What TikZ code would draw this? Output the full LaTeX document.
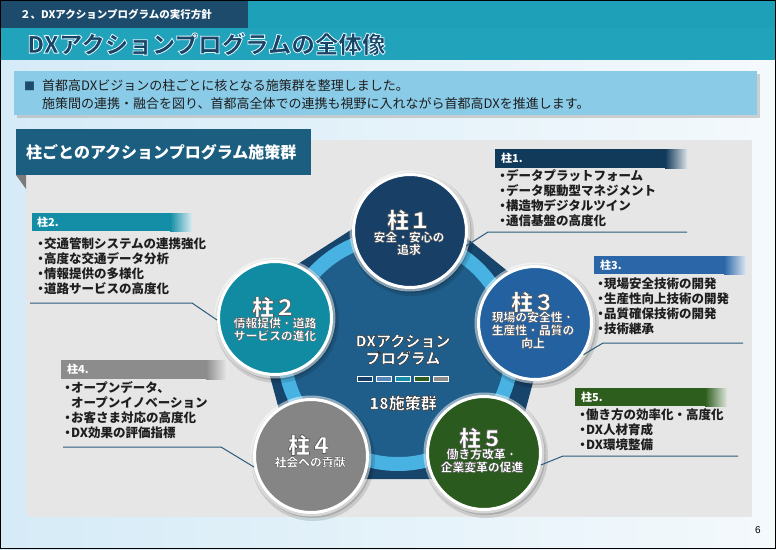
\documentclass[tikz,border=0pt]{standalone}
\usepackage{fontspec}
\setmainfont{Noto Sans CJK JP}
\newfontfamily\lsans{Liberation Sans}
\usetikzlibrary{calc}
\definecolor{navyhead}{HTML}{1C4B6C}
\definecolor{tealhead}{HTML}{1FA0B9}
\definecolor{tealband}{HTML}{22A3BC}
\definecolor{titletxt}{HTML}{1A4466}
\definecolor{bgA}{HTML}{D5EBF7}
\definecolor{bgB}{HTML}{F4F9FC}
\definecolor{notebox}{HTML}{8ACBE8}
\definecolor{panel}{HTML}{E6E6E6}
\definecolor{tabc}{HTML}{1B5E80}
\definecolor{pA}{HTML}{183F66}
\definecolor{pB}{HTML}{108BA1}
\definecolor{pC}{HTML}{2461A1}
\definecolor{pD}{HTML}{858585}
\definecolor{pE}{HTML}{2B5A1F}
\definecolor{hA}{HTML}{10395A}
\definecolor{hB}{HTML}{138EA6}
\definecolor{hC}{HTML}{2A66A8}
\definecolor{hD}{HTML}{8C8C8C}
\definecolor{hE}{HTML}{2E5E1E}
\definecolor{pentout}{HTML}{17446A}
\definecolor{pentin}{HTML}{1F5E8A}
\definecolor{ringc}{HTML}{48B2E2}
\definecolor{leader}{HTML}{2A5B7D}
\definecolor{bodyc}{HTML}{1E1E1E}
\newcommand\bul{\makebox[0.55em][c]{・}}
% outlined text: stroke rgb, stroke width, text
\newcommand\outl[3]{\special{pdf:literal direct 2 Tr #2 w #1 RG}#3\special{pdf:literal direct 0 Tr}}
% name, position, style, fill colour, stroke rgb, stroke width, text
\newcommand\gtext[7]{\node[#3,text=#4] (#1) at (#2) {\outl{#5}{#6}{#7}};}
\tikzset{
  hdrtxt/.style={font=\fontsize{10.5}{12}\selectfont\bfseries,text=white,anchor=west,inner sep=0},
  maintitle/.style={font=\fontsize{23.5}{26}\selectfont\bfseries,anchor=west,inner sep=0},
  notetxt/.style={font=\fontsize{13}{15}\selectfont,text=bodyc,anchor=west,inner sep=0},
  tabtxt/.style={font=\fontsize{16}{18}\selectfont\bfseries,text=white,anchor=west,inner sep=0},
  phtxt/.style={font=\fontsize{11}{12}\selectfont\bfseries,text=white,anchor=west,inner sep=0},
  listtxt/.style={font=\fontsize{12.5}{15}\selectfont\bfseries,text=bodyc,anchor=north west,inner sep=0,align=left},
  leadln/.style={draw=leader,line width=1pt},
  pillar/.style={circle,minimum size=113pt,inner sep=0,draw=white,line width=3pt},
  cbig/.style={font=\fontsize{22}{24}\selectfont\bfseries,inner sep=0},
  csub/.style={font=\fontsize{11.8}{13}\selectfont\bfseries,inner sep=0},
  ctr/.style={font=\fontsize{15}{17}\selectfont\bfseries,inner sep=0},
  ctrbig/.style={font=\fontsize{16}{18}\selectfont\bfseries,inner sep=0},
  minibar/.style={draw=white!75,line width=0.5pt},
}
\begin{document}
\begin{tikzpicture}[x=1pt,y=-1pt]
\useasboundingbox (0,0) rectangle (776,549);
% background
\shade[left color=bgA,right color=bgB] (0,60) rectangle (776,549);
% header
\fill[tealhead] (248,0) rectangle (776,28);
\fill[navyhead] (0,0) rectangle (248,28);
\fill[tealband] (0,28) rectangle (776,60);
\node[hdrtxt] (sect) at (20,14) {２、DXアクションプログラムの実行方針};
\gtext{title}{27,44}{maintitle}{titletxt}{0.88 0.97 1}{0.8}{DXアクションプログラムの全体像}
% note box
\fill[black!35,opacity=.5] (17,74) rectangle (760,118);
\fill[notebox] (14,71) rectangle (757,115);
\node[notetxt,text=navyhead,font=\fontsize{11}{12}\selectfont] (sq) at (24,86) {■};
\node[notetxt] (note1) at (42,86) {首都高DXビジョンの柱ごとに核となる施策群を整理しました。};
\node[notetxt] (note2) at (42,104) {施策間の連携・融合を図り、首都高全体での連携も視野に入れながら首都高DXを推進します。};
% panel
\fill[panel] (26,140) rectangle (752,517);
% tab
\fill[tabc] (16,129) rectangle (311,175);
\fill[black!52] (16,175) -- (26,175) -- (26,189) -- cycle;
\node[tabtxt] (tab) at (26,152) {柱ごとのアクションプログラム施策群};
% pillar header bars
\fill[hA] (495,149) rectangle (665,168);
\shade[left color=hA,right color=hA!15!white] (665,149) rectangle (687,168);
\node[phtxt] (h1) at (501,158.5) {柱1.};
\fill[hB] (32,213) rectangle (170,231);
\shade[left color=hB,right color=hB!15!white] (170,213) rectangle (192,231);
\node[phtxt] (h2) at (37,222) {柱2.};
\fill[hC] (594,256) rectangle (724,274);
\shade[left color=hC,right color=hC!15!white] (724,256) rectangle (746,274);
\node[phtxt] (h3) at (600,265) {柱3.};
\fill[hD] (61,360) rectangle (206,379);
\shade[left color=hD,right color=hD!15!white] (206,360) rectangle (228,379);
\node[phtxt] (h4) at (67,369.5) {柱4.};
\fill[hE] (575,388) rectangle (705,406);
\shade[left color=hE,right color=hE!15!white] (705,388) rectangle (727,406);
\node[phtxt] (h5) at (581,397) {柱5.};
% lists
\node[listtxt] (l1) at (499,169.5) {\bul データプラットフォーム\\\bul データ駆動型マネジメント\\\bul 構造物デジタルツイン\\\bul 通信基盤の高度化};
\node[listtxt] (l2) at (37,237.5) {\bul 交通管制システムの連携強化\\\bul 高度な交通データ分析\\\bul 情報提供の多様化\\\bul 道路サービスの高度化};
\node[listtxt] (l3) at (597,277.5) {\bul 現場安全技術の開発\\\bul 生産性向上技術の開発\\\bul 品質確保技術の開発\\\bul 技術継承};
\node[listtxt] (l4) at (64,381.5) {\bul オープンデータ、\\\hspace*{0.55em}オープンイノベーション\\\bul お客さま対応の高度化\\\bul DX効果の評価指標};
\node[listtxt] (l5) at (579,408.5) {\bul 働き方の効率化・高度化\\\bul DX人材育成\\\bul DX環境整備};
% central pentagon
\coordinate (pv1) at (410,192);
\coordinate (pv2) at (248,296);
\coordinate (pv3) at (298,479);
\coordinate (pv4) at (507,479);
\coordinate (pv5) at (553,308);
\fill[pentout] (pv1) -- (pv2) -- (pv3) -- (pv4) -- (pv5) -- cycle;
\begin{scope}
  \clip (pv1) -- (pv2) -- (pv3) -- (pv4) -- (pv5) -- cycle;
  \fill[pentin] (398,350) circle (107);
  \draw[ringc,line width=14pt] (398,350) circle (114);
\end{scope}
% circles
\foreach \cx/\cy in {410/231,275/318,535/323,311/456,484/453}{
  \fill[black,opacity=.12] (\cx+2,\cy+3) circle (62);
  \fill[black,opacity=.15] (\cx+1.5,\cy+2) circle (60);
  \fill[white,opacity=.5] (\cx,\cy) circle (60.5);
}
\node[pillar,fill=pA] (c1) at (410,231) {};
\node[pillar,fill=pB] (c2) at (275,318) {};
\node[pillar,fill=pC] (c3) at (535,323) {};
\node[pillar,fill=pD] (c4) at (311,456) {};
\node[pillar,fill=pE] (c5) at (484,453) {};
% leaders
\coordinate (u1) at (488,232); \coordinate (e1) at (687,232);
\coordinate (u2) at (192,303); \coordinate (e2) at (30,303);
\coordinate (u3) at (603,343); \coordinate (e3) at (743,343);
\coordinate (u4) at (221,447); \coordinate (e4) at (63,447);
\coordinate (u5) at (563,456); \coordinate (e5) at (738,456);
\draw[leadln] (c1.-15) -- (u1) -- (e1);
\draw[leadln] (c2.182) -- (u2) -- (e2);
\draw[leadln] (c3.-33) -- (u3) -- (e3);
\draw[leadln] (c4.191) -- (u4) -- (e4);
\draw[leadln] (c5.-12) -- (u5) -- (e5);
% circle texts
\gtext{t1a}{409,220}{cbig}{white}{0.35 0.35 0.35}{0.7}{柱１}
\gtext{t1b}{409,237}{csub}{white}{0.35 0.35 0.35}{0.35}{安全・安心の}
\gtext{t1c}{409,249.5}{csub}{white}{0.35 0.35 0.35}{0.35}{追求}
\gtext{t2a}{274,307}{cbig}{white}{0.35 0.35 0.35}{0.7}{柱２}
\gtext{t2b}{275,323}{csub}{white}{0.35 0.35 0.35}{0.35}{情報提供・道路}
\gtext{t2c}{275,335.5}{csub}{white}{0.35 0.35 0.35}{0.35}{サービスの進化}
\gtext{t3a}{533,302}{cbig}{white}{0.35 0.35 0.35}{0.7}{柱３}
\gtext{t3b}{533,317}{csub}{white}{0.35 0.35 0.35}{0.35}{現場の安全性・}
\gtext{t3c}{533,330}{csub}{white}{0.35 0.35 0.35}{0.35}{生産性・品質の}
\gtext{t3d}{533,343}{csub}{white}{0.35 0.35 0.35}{0.35}{向上}
\gtext{t4a}{310,445}{cbig}{white}{0.35 0.35 0.35}{0.7}{柱４}
\gtext{t4b}{310,462}{csub}{white}{0.35 0.35 0.35}{0.35}{社会への貢献}
\gtext{t5a}{481,438}{cbig}{white}{0.35 0.35 0.35}{0.7}{柱５}
\gtext{t5b}{482,454}{csub}{white}{0.35 0.35 0.35}{0.35}{働き方改革・}
\gtext{t5c}{482,467}{csub}{white}{0.35 0.35 0.35}{0.35}{企業変革の促進}
% center texts
\gtext{ca}{403,341}{ctr}{white}{0.2 0.2 0.2}{0.5}{DXアクション}
\gtext{cb}{403,358}{ctr}{white}{0.2 0.2 0.2}{0.5}{プログラム}
\fill[fill=pA] (357,376.5) rectangle (372,381.5);
\fill[fill=hC!80!white] (376,376.5) rectangle (391,381.5);
\fill[fill=hB] (395,376.5) rectangle (410,381.5);
\fill[fill=hE] (414,376.5) rectangle (429,381.5);
\fill[fill=hD] (433,376.5) rectangle (448,381.5);
\draw[minibar] (357,376.5) rectangle (372,381.5) (376,376.5) rectangle (391,381.5) (395,376.5) rectangle (410,381.5) (414,376.5) rectangle (429,381.5) (433,376.5) rectangle (448,381.5);
\gtext{cc}{403,403}{ctrbig}{white}{0.2 0.2 0.2}{0.5}{18施策群}
% page number
\node[font=\lsans\fontsize{10}{12}\selectfont,inner sep=0] (pg) at (758,530) {6};
% frame
\draw[black,line width=1pt] (0.5,0.5) rectangle (775.5,548.5);
\end{tikzpicture}
\end{document}
